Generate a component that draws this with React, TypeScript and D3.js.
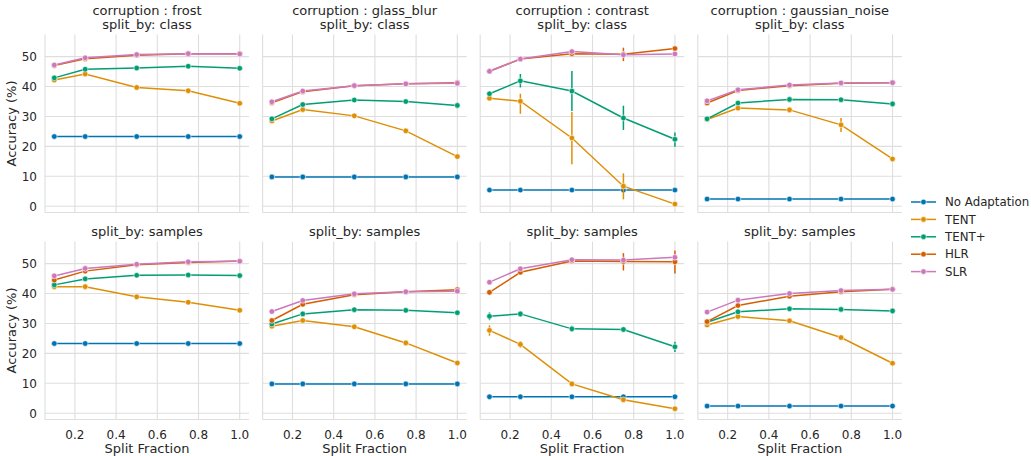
import React from "react";
import * as d3 from "d3";

const methods = ["No Adaptation", "TENT", "TENT+", "HLR", "SLR"];
const colors = ["#0173b2", "#de8f05", "#029e73", "#d55e00", "#cc78bc"];
const splitFractions = [0.1, 0.25, 0.5, 0.75, 1.0];
const corruptions = ["frost", "glass_blur", "contrast", "gaussian_noise"];
const splitBys = ["class", "samples"];
const yTicks = [0, 10, 20, 30, 40, 50];
const xTicks = [0.2, 0.4, 0.6, 0.8, 1.0];

// rows: No Adaptation, TENT, TENT+, HLR, SLR
const frostClass = [
  [23.3, 23.3, 23.3, 23.3, 23.3],
  [42.2, 44.2, 39.7, 38.6, 34.4],
  [42.9, 45.8, 46.2, 46.8, 46.1],
  [47.0, 49.3, 50.5, 51.0, 51.0],
  [47.2, 49.6, 50.7, 51.0, 50.9],
];
const glassClass = [
  [9.8, 9.8, 9.8, 9.8, 9.8],
  [28.5, 32.3, 30.2, 25.2, 16.6],
  [29.2, 34.0, 35.5, 35.0, 33.7],
  [34.6, 38.3, 40.3, 40.9, 41.3],
  [34.9, 38.5, 40.3, 40.9, 41.1],
];
const contrastClass = [
  [5.4, 5.4, 5.4, 5.4, 5.4],
  [36.1, 35.1, 22.8, 6.7, 0.7],
  [37.6, 41.9, 38.5, 29.5, 22.4],
  [45.1, 49.2, 51.0, 50.8, 52.7],
  [45.1, 49.2, 51.7, 50.6, 50.9],
];
const gaussianClass = [
  [2.4, 2.4, 2.4, 2.4, 2.4],
  [29.0, 32.8, 32.2, 27.2, 15.8],
  [29.2, 34.5, 35.7, 35.6, 34.2],
  [34.5, 38.7, 40.3, 41.1, 41.3],
  [35.2, 38.9, 40.5, 41.2, 41.3],
];
const frostSamples = [
  [23.3, 23.3, 23.3, 23.3, 23.3],
  [42.3, 42.3, 38.9, 37.1, 34.4],
  [42.9, 44.9, 46.1, 46.2, 46.0],
  [44.5, 47.5, 49.6, 50.4, 50.9],
  [45.9, 48.4, 49.8, 50.6, 50.8],
];
const glassSamples = [
  [9.8, 9.8, 9.8, 9.8, 9.8],
  [29.1, 31.0, 28.9, 23.5, 16.8],
  [29.8, 33.2, 34.6, 34.4, 33.6],
  [31.0, 36.4, 39.6, 40.6, 41.3],
  [34.0, 37.7, 39.9, 40.6, 40.8],
];
const contrastSamples = [
  [5.5, 5.5, 5.5, 5.5, 5.5],
  [27.7, 23.0, 9.8, 4.5, 1.5],
  [32.4, 33.2, 28.2, 28.0, 22.2],
  [40.4, 47.1, 50.9, 50.7, 50.6],
  [43.8, 48.3, 51.3, 51.2, 52.1],
];
const gaussianSamples = [
  [2.4, 2.4, 2.4, 2.4, 2.4],
  [29.5, 32.3, 30.9, 25.3, 16.7],
  [30.4, 33.9, 34.9, 34.7, 34.2],
  [30.6, 36.0, 39.1, 40.6, 41.4],
  [33.8, 37.8, 40.0, 41.0, 41.4],
];

// [rowIdx(splitBy), colIdx(corruption), methodIdx, xIdx, low, high]
const errorBars = [
  [0, 2, 1, 1, 30.9, 37.6],
  [0, 2, 1, 2, 14.0, 31.5],
  [0, 2, 1, 3, 2.3, 11.0],
  [0, 2, 2, 1, 39.7, 44.2],
  [0, 2, 2, 2, 31.8, 45.2],
  [0, 2, 2, 3, 25.5, 33.6],
  [0, 2, 2, 4, 19.9, 24.6],
  [0, 2, 3, 3, 48.5, 53.0],
  [0, 3, 1, 3, 24.8, 29.5],
  [1, 2, 1, 0, 25.9, 29.4],
  [1, 2, 1, 1, 21.9, 24.1],
  [1, 2, 1, 2, 9.0, 10.6],
  [1, 2, 2, 0, 31.1, 33.7],
  [1, 2, 2, 1, 32.2, 34.2],
  [1, 2, 2, 2, 27.2, 29.2],
  [1, 2, 2, 4, 20.5, 23.9],
  [1, 2, 3, 3, 47.7, 53.5],
  [1, 2, 3, 4, 46.7, 54.4],
  [1, 2, 4, 4, 51.0, 53.2],
];

const panelData = [
  [frostClass, glassClass, contrastClass, gaussianClass],
  [frostSamples, glassSamples, contrastSamples, gaussianSamples],
];

const W = 1031;
const H = 456;
const FONT = "DejaVu Sans, sans-serif";
const TEXT = "#262626";
const GRID = "#dedede";

const panelW = 204;
const panelH = 178;
const left0 = 45;
const colStep = 217.6;
const rowTops = [34.5, 241.5];

export default function App() {
  const x = d3.scaleLinear().domain([0.055, 1.045]).range([0, panelW]);
  const y = d3.scaleLinear().domain([-2.1, 57.4]).range([panelH, 0]);
  const line = d3
    .line<number>()
    .x((_, i) => x(splitFractions[i]))
    .y((d) => y(d));

  const panels: React.ReactNode[] = [];
  splitBys.forEach((sb, r) => {
    corruptions.forEach((cor, c) => {
      const tx = left0 + c * colStep;
      const ty = rowTops[r];
      const data = panelData[r][c];
      panels.push(
        <g key={`p${r}-${c}`} transform={`translate(${tx},${ty})`}>
          {yTicks.map((t) => (
            <line key={`gy${t}`} x1={0} x2={panelW} y1={y(t)} y2={y(t)} stroke={GRID} strokeWidth={1.1} />
          ))}
          {xTicks.map((t) => (
            <line key={`gx${t}`} x1={x(t)} x2={x(t)} y1={0} y2={panelH} stroke={GRID} strokeWidth={1.1} />
          ))}
          <line x1={0} x2={0} y1={0} y2={panelH} stroke={GRID} strokeWidth={1.1} />
          <line x1={0} x2={panelW} y1={panelH} y2={panelH} stroke={GRID} strokeWidth={1.1} />
          {data.map((vals, m) => (
            <g key={`m${m}`}>
              <path d={line(vals) || ""} fill="none" stroke={colors[m]} strokeWidth={1.5} />
              {errorBars
                .filter((e) => e[0] === r && e[1] === c && e[2] === m)
                .map((e, k) => (
                  <line
                    key={`e${k}`}
                    x1={x(splitFractions[e[3]])}
                    x2={x(splitFractions[e[3]])}
                    y1={y(e[4])}
                    y2={y(e[5])}
                    stroke={colors[m]}
                    strokeWidth={1.5}
                  />
                ))}
              {vals.map((v, i) => (
                <circle
                  key={`c${i}`}
                  cx={x(splitFractions[i])}
                  cy={y(v)}
                  r={2.8}
                  fill={colors[m]}
                  stroke="#ffffff"
                  strokeWidth={0.6}
                />
              ))}
            </g>
          ))}
          {c === 0 &&
            yTicks.map((t) => (
              <text key={`ty${t}`} x={-8} y={y(t)} dy="0.36em" textAnchor="end" fontSize={12} fill={TEXT} fontFamily={FONT}>
                {t}
              </text>
            ))}
          {r === 1 &&
            xTicks.map((t) => (
              <text key={`tx${t}`} x={x(t)} y={panelH + 19} textAnchor="middle" fontSize={12} fill={TEXT} fontFamily={FONT}>
                {t.toFixed(1)}
              </text>
            ))}
          {r === 1 && (
            <text x={panelW / 2} y={panelH + 33.5} textAnchor="middle" fontSize={13} fill={TEXT} fontFamily={FONT}>
              Split Fraction
            </text>
          )}
          {c === 0 && (
            <text
              transform={`translate(${-29.5},${panelH / 2}) rotate(-90)`}
              textAnchor="middle"
              fontSize={13}
              fill={TEXT}
              fontFamily={FONT}
            >
              Accuracy (%)
            </text>
          )}
          {r === 0 ? (
            <>
              <text x={panelW / 2} y={-20} textAnchor="middle" fontSize={13} fill={TEXT} fontFamily={FONT}>
                {`corruption : ${cor}`}
              </text>
              <text x={panelW / 2} y={-6} textAnchor="middle" fontSize={13} fill={TEXT} fontFamily={FONT}>
                {`split_by: ${sb}`}
              </text>
            </>
          ) : (
            <text x={panelW / 2} y={-6} textAnchor="middle" fontSize={13} fill={TEXT} fontFamily={FONT}>
              {`split_by: ${sb}`}
            </text>
          )}
        </g>
      );
    });
  });

  const legend = (
    <g transform="translate(911,202)">
      {methods.map((m, i) => (
        <g key={m} transform={`translate(0,${i * 17.4})`}>
          <line x1={0} x2={25} y1={0} y2={0} stroke={colors[i]} strokeWidth={1.5} />
          <circle cx={12.5} cy={0} r={2.8} fill={colors[i]} stroke="#ffffff" strokeWidth={0.6} />
          <text x={34} y={0} dy="0.36em" fontSize={11.8} fill={TEXT} fontFamily={FONT}>
            {m}
          </text>
        </g>
      ))}
    </g>
  );

  return (
    <svg
      width={W}
      height={H}
      style={{ position: "absolute", left: 0, top: 0, background: "#ffffff" }}
    >
      <rect width={W} height={H} fill="#ffffff" />
      {panels}
      {legend}
    </svg>
  );
}
